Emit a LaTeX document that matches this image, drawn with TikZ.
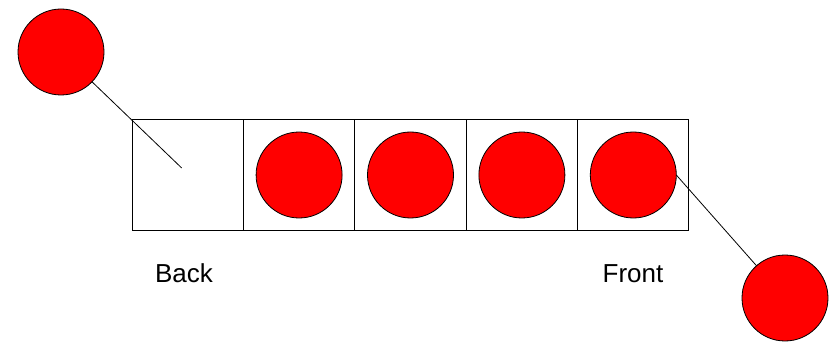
\documentclass[tikz,border=0pt]{standalone}
\usepackage{fontspec}
\setmainfont{Liberation Sans}
\usetikzlibrary{calc}

\tikzset{
    cell/.style={draw, line width=0.75pt, minimum size=83.5pt, inner sep=0pt, outer sep=0pt},
    ball/.style={circle, draw, fill=red, line width=0.6pt, minimum size=64.5pt, inner sep=0pt, outer sep=0pt},
    tag/.style={anchor=base, font=\fontsize{19.5}{23}\selectfont}
}

\begin{document}
\begin{tikzpicture}[x=0.75pt, y=-0.75pt]
    \useasboundingbox (0,0) rectangle (832,342);
    \foreach \i in {1,...,5} {\node[cell] (box\i) at ({187.7+111.4*(\i-1)},175) {};}
    \foreach \i in {2,...,5} {\node[ball] (ball\i) at (box\i.center) {};}
    \node[ball] (incoming) at (61,52) {};
    \node[ball] (outgoing) at (785,298) {};
    \coordinate (drop) at ($(box1.center)+(-6,-7)$);
    \draw[line width=0.6pt] (incoming) -- (drop);
    \draw[line width=0.6pt] (ball5.east) -- (outgoing);
    \node[tag] (back) at (184,282) {Back};
    \node[tag] (front) at (633,282) {Front};
\end{tikzpicture}
\end{document}
